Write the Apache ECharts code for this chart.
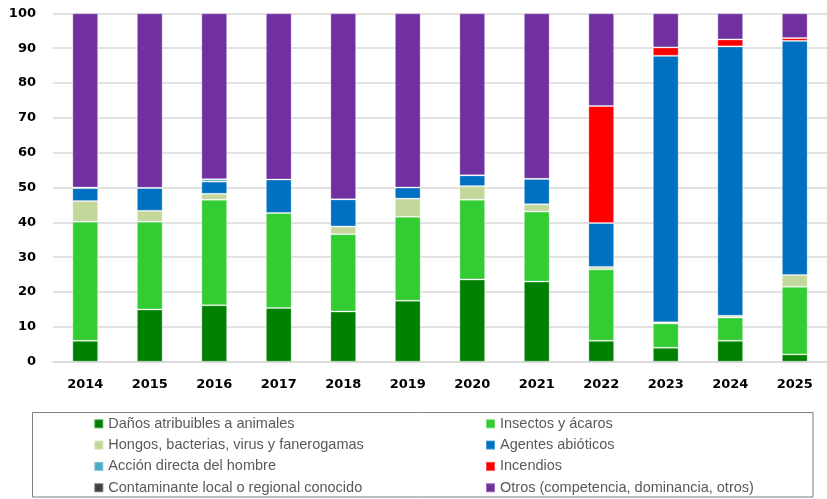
<!DOCTYPE html>
<html>
<head>
<meta charset="utf-8">
<script src="https://cdn.jsdelivr.net/npm/echarts@6/dist/echarts.min.js"></script>
<style>
html,body{margin:0;padding:0;background:#fff;}
#chart{width:827px;height:499px;}
</style>
</head>
<body>
<div id="chart"></div>
<script>
const years = ['2014','2015','2016','2017','2018','2019','2020','2021','2022','2023','2024','2025'];
const danosAnimales = [6.0, 15.0, 16.2, 15.4, 14.4, 17.5, 23.6, 23.0, 6.0, 4.0, 6.0, 2.1];
const insectos      = [34.2, 25.2, 30.3, 27.3, 22.2, 24.1, 22.9, 20.1, 20.5, 7.0, 6.7, 19.4];
const hongos        = [5.9, 3.1, 1.7, 0, 2.2, 5.2, 3.9, 2.1, 0.7, 0.3, 0.5, 3.4];
const abioticos     = [3.7, 6.6, 3.5, 9.6, 7.8, 3.2, 3.1, 7.3, 12.6, 76.5, 77.3, 67.2];
const accionHombre  = [0.2, 0, 0.7, 0, 0, 0, 0, 0, 0, 0, 0, 0];
const incendios     = [0, 0, 0, 0, 0, 0, 0, 0, 33.6, 2.4, 2.0, 0.8];
const contaminante  = [0, 0, 0, 0, 0, 0, 0, 0, 0, 0, 0, 0];
const otros         = [50.0, 50.1, 47.6, 47.7, 53.4, 50.0, 46.5, 47.5, 26.6, 9.8, 7.5, 7.1];

const seriesDefs = [
  ['Daños atribuibles a animales', danosAnimales, '#008000'],
  ['Insectos y ácaros', insectos, '#33cc33'],
  ['Hongos, bacterias, virus y fanerogamas', hongos, '#c4d79b'],
  ['Agentes abióticos', abioticos, '#0070c0'],
  ['Acción directa del hombre', accionHombre, '#4bacc6'],
  ['Incendios', incendios, '#ff0000'],
  ['Contaminante local o regional conocido', contaminante, '#404040'],
  ['Otros (competencia, dominancia, otros)', otros, '#7030a0']
];

const chart = echarts.init(document.getElementById('chart'), null, {renderer:'canvas'});
const legendText = {fontFamily:'Liberation Sans, Arial, sans-serif', fontSize:14.5, color:'#595959', lineHeight:14};
const legendBase = {orient:'vertical', top:416.3, height:90, padding:0, itemWidth:9, itemHeight:9, itemGap:6.3, icon:'rect', textStyle:legendText, selectedMode:false};
chart.setOption({
  animation:false,
  backgroundColor:'#fff',
  grid:{left:53, right:-6, top:13.3, bottom:137.3, containLabel:false},
  xAxis:{
    type:'category', data:years,
    axisLine:{show:true, lineStyle:{color:'#d9d9d9', width:1.5}},
    axisTick:{show:false},
    axisLabel:{margin:16, fontFamily:'DejaVu Sans', fontWeight:'bold', fontSize:13, color:'#000'}
  },
  yAxis:{
    type:'value', min:0, max:100, interval:10,
    axisLine:{show:false}, axisTick:{show:false},
    splitLine:{lineStyle:{color:'#d9d9d9', width:1.5}},
    axisLabel:{margin:17, fontFamily:'DejaVu Sans', fontWeight:'bold', fontSize:13, color:'#000'}
  },
  legend:[
    Object.assign({}, legendBase, {left:93.3, data:[seriesDefs[0][0], seriesDefs[2][0], seriesDefs[4][0], seriesDefs[6][0]]}),
    Object.assign({}, legendBase, {left:485, data:[seriesDefs[1][0], seriesDefs[3][0], seriesDefs[5][0], seriesDefs[7][0]]})
  ],
  graphic:[{type:'rect', shape:{x:32.5, y:412.5, width:780.5, height:84.5}, style:{fill:'none', stroke:'#7f7f7f', lineWidth:1}, silent:true}],
  series: seriesDefs.map(d => ({
    name:d[0], type:'bar', stack:'total', data:d[1], barWidth:'40%',
    itemStyle:{color:d[2], borderColor:'rgba(255,255,255,0.3)', borderWidth:1},
    emphasis:{disabled:true}
  }))
});
</script>
</body>
</html>
